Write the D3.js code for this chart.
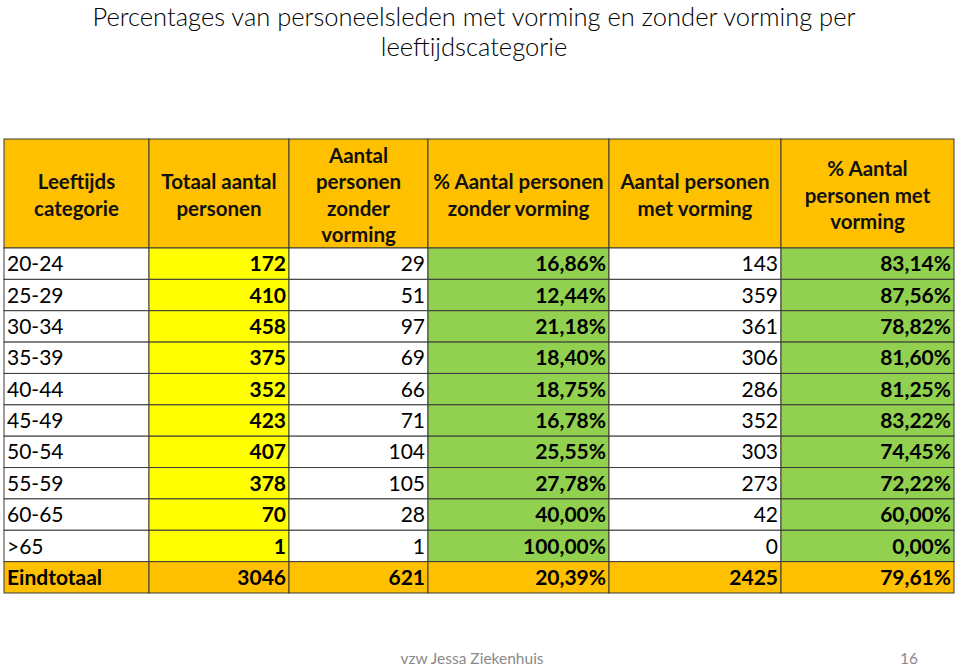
<!DOCTYPE html>
<html><head><meta charset="utf-8">
<script src="https://cdn.jsdelivr.net/npm/d3@7"></script>
<style>body{margin:0;background:#fff}svg{display:block}</style>
</head><body>
<svg id="c" width="960" height="666"></svg>
<script>
const ageCategories = ["20-24","25-29","30-34","35-39","40-44","45-49","50-54","55-59","60-65",">65"];
const totalPersons = [172,410,458,375,352,423,407,378,70,1];
const withoutTraining = [29,51,97,69,66,71,104,105,28,1];
const pctWithoutTraining = [16.86,12.44,21.18,18.40,18.75,16.78,25.55,27.78,40.00,100.00];
const withTraining = [143,359,361,306,286,352,303,273,42,0];
const pctWithTraining = [83.14,87.56,78.82,81.60,81.25,83.22,74.45,72.22,60.00,0.00];
const totalLabel = "Eindtotaal";
const totalRow = [3046,621,20.39,2425,79.61];
const headers = [
  ["Leeftijds","categorie"],
  ["Totaal aantal","personen"],
  ["Aantal","personen","zonder","vorming"],
  ["% Aantal personen","zonder vorming"],
  ["Aantal personen","met vorming"],
  ["% Aantal","personen met","vorming"]
];
const titleLines = ["Percentages van personeelsleden met vorming en zonder vorming per","leeftijdscategorie"];

const svg = d3.select("#c");
const font = "Lato, 'Open Sans', sans-serif";
const ORANGE="#FFC000", YELLOW="#FFFF00", GREEN="#92D050";

const loc = d3.formatLocale({decimal:",",thousands:".",grouping:[3],currency:["€",""]});
const fPct = v => loc.format(".2f")(v) + "%";
const fInt = v => String(v);

// columns
const colWidths = [145,140,139,181,172,173];
const edges = [0]; colWidths.forEach(w=>edges.push(edges[edges.length-1]+w));
const x = d3.scaleLinear().domain([0, edges[edges.length-1]]).range([4, 954]);

// rows
const headerTop = 139, headerBottom = 248, tableBottom = 593;
const y = d3.scaleBand().domain([...ageCategories, totalLabel]).range([headerBottom, tableBottom]);

// title
svg.append("g").selectAll("text").data(titleLines).join("text")
  .attr("x", 474).attr("y",(d,i)=>26+i*30)
  .attr("text-anchor","middle").attr("font-family",font).attr("font-weight",300)
  .attr("font-size",25.5).attr("fill","#000").text(d=>d);

// build rows
const rows = ageCategories.map((a,i)=>({key:a, cells:[
  {v:a, t:"label", fill:"#fff", bold:false},
  {v:totalPersons[i], t:"int", fill:YELLOW, bold:true},
  {v:withoutTraining[i], t:"int", fill:"#fff", bold:false},
  {v:pctWithoutTraining[i], t:"pct", fill:GREEN, bold:true},
  {v:withTraining[i], t:"int", fill:"#fff", bold:false},
  {v:pctWithTraining[i], t:"pct", fill:GREEN, bold:true}
]}));
rows.push({key:totalLabel, cells:[
  {v:totalLabel,t:"label",fill:ORANGE,bold:true},
  {v:totalRow[0],t:"int",fill:ORANGE,bold:true},
  {v:totalRow[1],t:"int",fill:ORANGE,bold:true},
  {v:totalRow[2],t:"pct",fill:ORANGE,bold:true},
  {v:totalRow[3],t:"int",fill:ORANGE,bold:true},
  {v:totalRow[4],t:"pct",fill:ORANGE,bold:true}
]});

const stroke = "#3a3a3a";
// header cells
const hg = svg.append("g");
hg.selectAll("rect").data(headers).join("rect")
  .attr("x",(d,i)=>x(edges[i])).attr("y",headerTop)
  .attr("width",(d,i)=>x(edges[i+1])-x(edges[i])).attr("height",headerBottom-headerTop)
  .attr("fill",ORANGE).attr("stroke",stroke).attr("stroke-width",1);
const lh = 26.5;
hg.selectAll("text").data(headers).join("text")
  .attr("x",(d,i)=>(x(edges[i])+x(edges[i+1]))/2)
  .attr("text-anchor","middle").attr("font-family",font).attr("font-weight",700)
  .attr("font-size",20.5).attr("fill","#111")
  .each(function(d){
    const cy = (headerTop+headerBottom)/2 + 2;
    const start = cy - (d.length-1)*lh/2;
    d3.select(this).selectAll("tspan").data(d).join("tspan")
      .attr("x", d3.select(this).attr("x"))
      .attr("y",(s,j)=>start + j*lh).attr("dy","0.35em").text(s=>s);
  });

// body
const rg = svg.append("g").selectAll("g").data(rows).join("g")
  .attr("transform",d=>`translate(0,${y(d.key)})`);
rg.selectAll("rect").data(d=>d.cells).join("rect")
  .attr("x",(d,i)=>x(edges[i])).attr("y",0)
  .attr("width",(d,i)=>x(edges[i+1])-x(edges[i])).attr("height",y.bandwidth())
  .attr("fill",d=>d.fill).attr("stroke",stroke).attr("stroke-width",1);
rg.selectAll("text").data(d=>d.cells).join("text")
  .attr("x",(d,i)=> d.t==="label" ? x(edges[i])+3 : x(edges[i+1])-3)
  .attr("y", y.bandwidth()/2).attr("dy","0.36em")
  .attr("text-anchor",d=>d.t==="label"?"start":"end")
  .attr("font-family",font).attr("font-size",21)
  .attr("font-weight",d=>d.bold?700:400).attr("fill","#000")
  .text(d=> d.t==="pct" ? fPct(d.v) : d.t==="int" ? fInt(d.v) : d.v);

// footer
svg.append("text").attr("x",472).attr("y",664).attr("text-anchor","middle")
  .attr("font-family",font).attr("font-size",15.5).attr("fill","#8a8a8a").text("vzw Jessa Ziekenhuis");
svg.append("text").attr("x",918).attr("y",664).attr("text-anchor","end")
  .attr("font-family",font).attr("font-size",15.5).attr("fill","#8a8a8a").text("16");
</script>
</body></html>
